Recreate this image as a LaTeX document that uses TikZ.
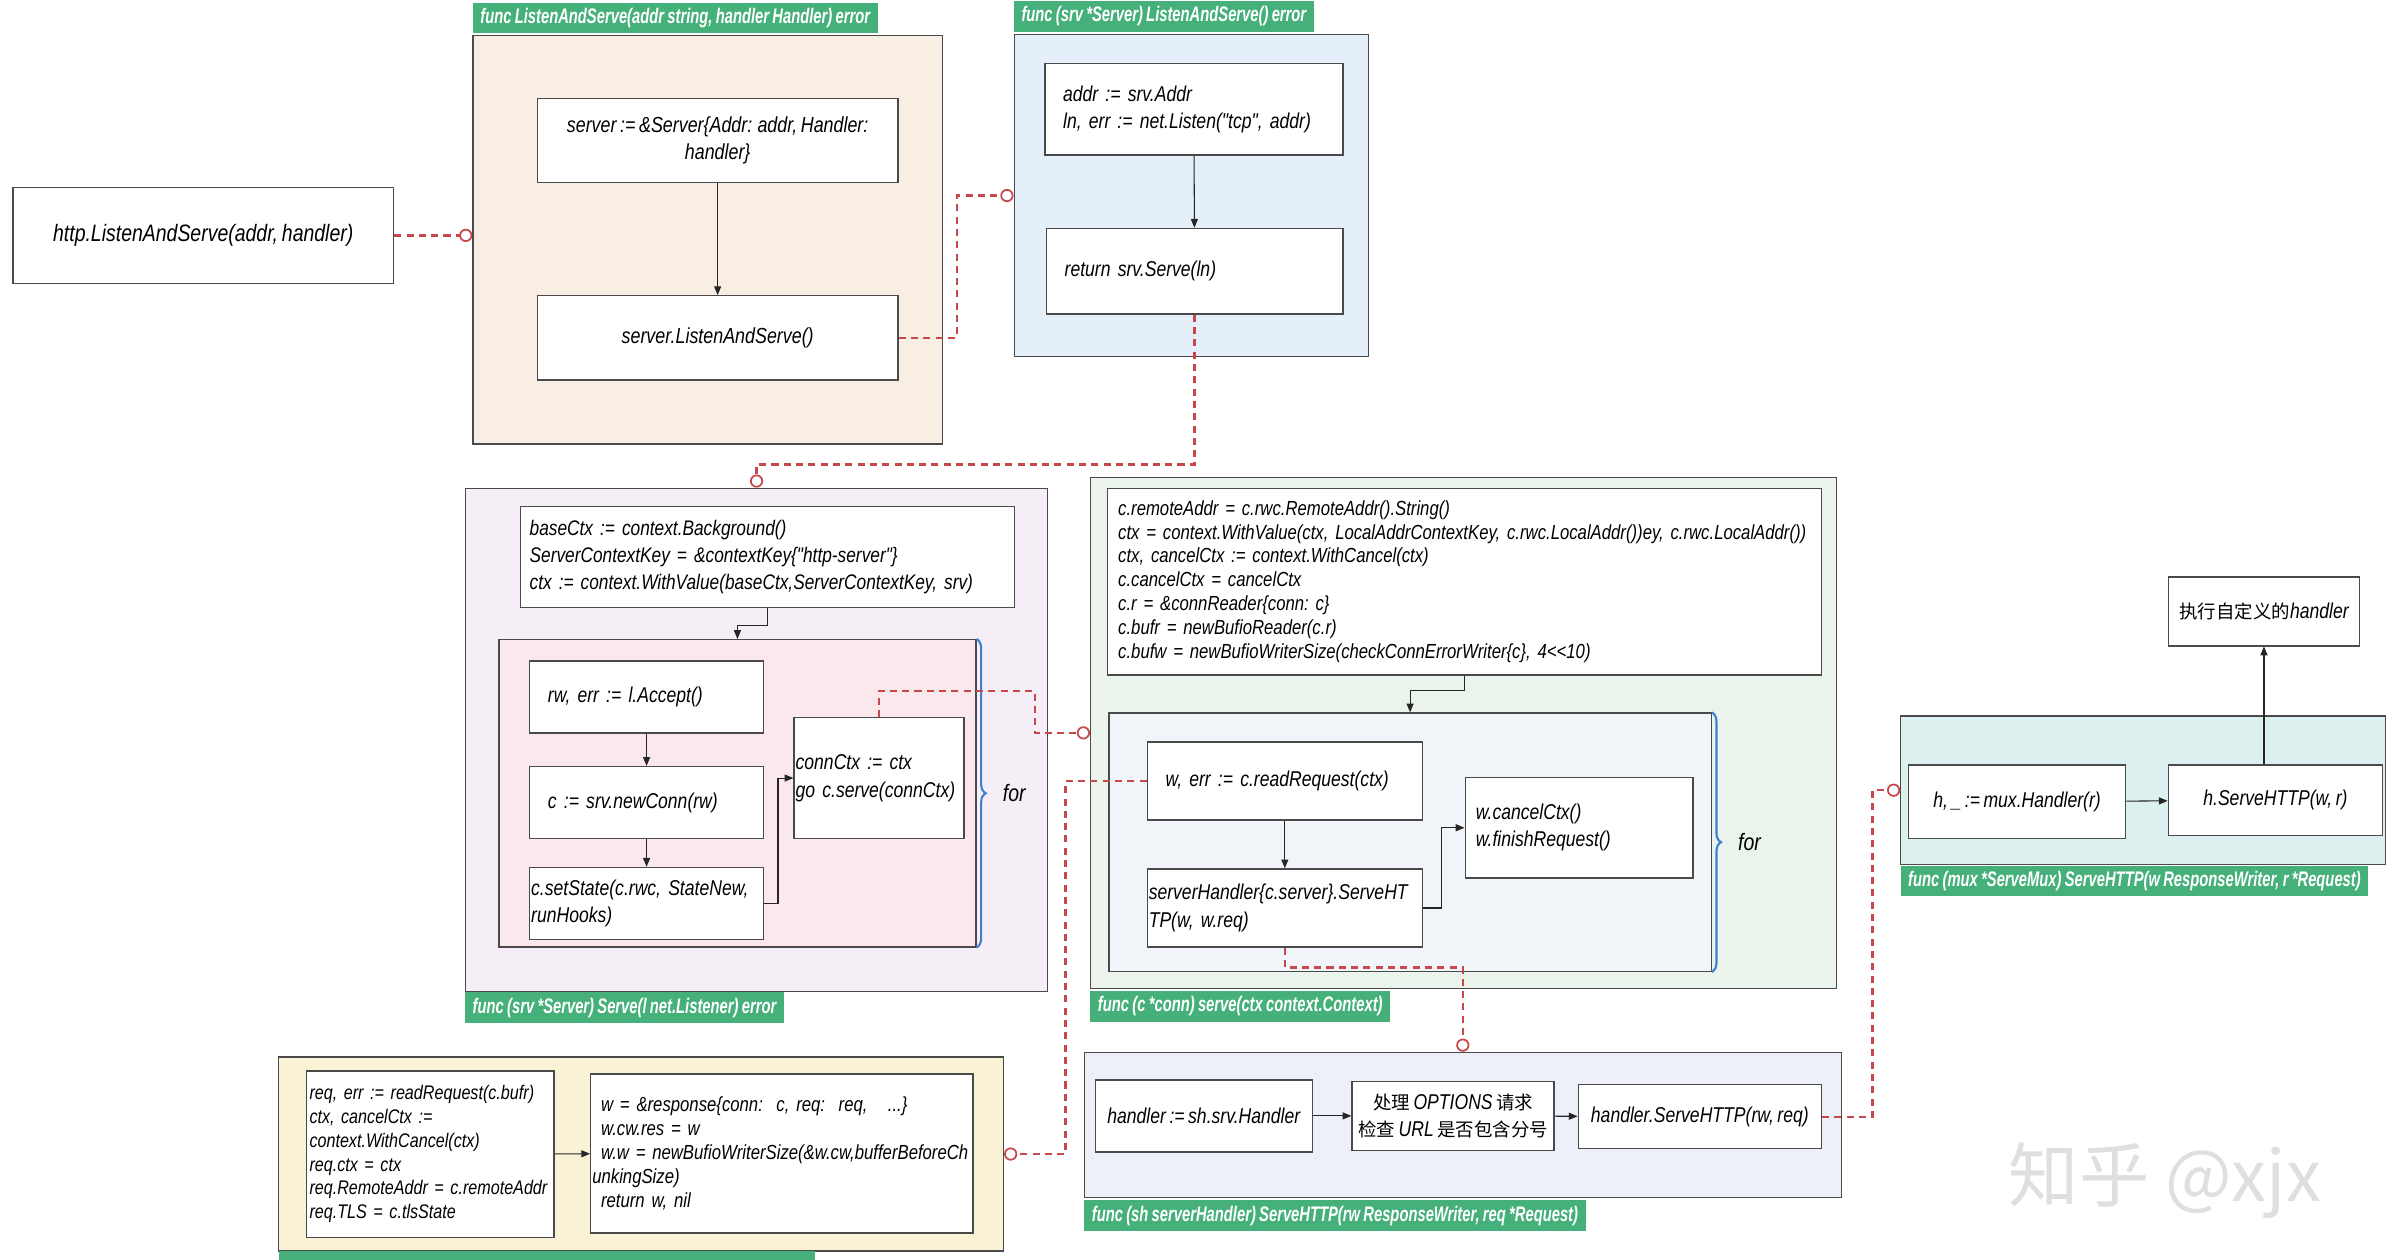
\documentclass[tikz,border=0pt]{standalone}
\usepackage{fontspec}
\usepackage{xcolor}
\usepackage{tikz}
\usetikzlibrary{arrows.meta,decorations.pathreplacing}
\newfontfamily\codefont{Liberation Sans}[FakeStretch=0.82, WordSpace=0.72]
\newfontfamily\tabfont{Liberation Sans}[FakeStretch=0.7, WordSpace=0.8]
\newfontfamily\cjk{Noto Sans CJK SC}
\definecolor{edge}{HTML}{4A4A4A}
\definecolor{tabgreen}{HTML}{45B07A}
\definecolor{linkred}{HTML}{C8474A}
\definecolor{braceblue}{HTML}{3F7FD0}
\definecolor{tanbg}{HTML}{F8EEE3}
\definecolor{bluebg}{HTML}{E4EFFA}
\definecolor{lilacbg}{HTML}{F5EEF7}
\definecolor{pinkbg}{HTML}{FBE8EC}
\definecolor{greenbg}{HTML}{EAF3EC}
\definecolor{loopbg}{HTML}{F1F5FA}
\definecolor{yellowbg}{HTML}{FAF2D5}
\definecolor{hdlbg}{HTML}{EDF0F8}
\definecolor{muxbg}{HTML}{DDF0F0}
\newdimen\px \px=0.3057mm
\tikzset{
  fnframe/.style={rectangle, draw=edge, line width=0.7pt, fill=#1, anchor=north west, inner sep=0pt},
  fntab/.style={rectangle, fill=tabgreen, text=white, anchor=#1, inner xsep=5\px, inner ysep=0pt,
                minimum height=20\px, font=\tabfont\bfseries\itshape\fontsize{12}{13}\selectfont},
  codebox/.style={rectangle, draw=edge, line width=0.8pt, fill=white, anchor=north west, inner ysep=0pt,
                  inner xsep=4\px, align=left, font=\codefont\itshape\frenchspacing\fontsize{12.2}{15.6}\selectfont},
  arr/.style={-{Triangle[length=5pt, width=4pt]}, line width=0.6pt, draw=black!85},
  calllink/.style={line width=1.3pt, draw=linkred, dash pattern=on 4pt off 3pt,
                   -{Circle[length=7.5pt, fill=white, line width=1pt]}},
  loopbrace/.style={decorate, decoration={brace, amplitude=6\px}, draw=braceblue, line width=1.2pt},
  forlabel/.style={anchor=west, inner sep=0pt, font=\codefont\itshape\fontsize{13.5}{15}\selectfont},
}

\begin{document}
\begin{tikzpicture}[x=0.3057mm, y=-0.3057mm]
  \useasboundingbox (0,0) rectangle (1568,824);
  \fill[white] (0,0) rectangle (1568,824);

  % entry call
  \node[codebox, align=center, font=\codefont\itshape\fontsize{13.5}{16}\selectfont,
        minimum width=249\px, minimum height=63\px] (http) at (8,122) {http.ListenAndServe(addr, handler)};

  % func ListenAndServe
  \node[fnframe=tanbg, minimum width=307\px, minimum height=267\px] (fLAS) at (309,23) {};
  \node[fntab=south west] (tLAS) at (309,22) {func ListenAndServe(addr string, handler Handler) error};
  \node[codebox, align=center, font=\codefont\itshape\fontsize{12.4}{15.6}\selectfont,
        minimum width=236\px, minimum height=55\px] (srvNew) at (351,64) {server := \&Server\{Addr: addr, Handler:\\handler\}};
  \node[codebox, align=center, font=\codefont\itshape\fontsize{12.4}{15.6}\selectfont,
        minimum width=236\px, minimum height=55\px] (sLAS) at (351,193) {server.ListenAndServe()};
  \draw[arr] (srvNew) -- (sLAS);

  % func (srv *Server) ListenAndServe
  \node[fnframe=bluebg, minimum width=232\px, minimum height=211\px] (fSrvLAS) at (663,22) {};
  \node[fntab=south west] (tSrvLAS) at (663,21) {func (srv *Server) ListenAndServe() error};
  \node[codebox, inner xsep=12\px, text width=171\px, minimum height=60\px] (addr) at (683,41) {addr := srv.Addr\\ln, err := net.Listen("tcp", addr)};
  \node[codebox, inner xsep=12\px, text width=170\px, minimum height=56\px] (ret) at (684,149) {return srv.Serve(ln)};
  \draw[arr] (addr) -- (ret);

  % func (srv *Server) Serve
  \node[fnframe=lilacbg, minimum width=381\px, minimum height=329\px] (fServe) at (304,319) {};
  \node[fntab=north west] (tServe) at (304,649) {func (srv *Server) Serve(l net.Listener) error};
  \node[codebox, inner xsep=6\px, text width=311\px, minimum height=66\px,
        font=\codefont\itshape\frenchspacing\fontsize{12}{15.2}\selectfont] (base) at (340,331)
       {baseCtx := context.Background()\\ServerContextKey = \&contextKey\{"http-server"\}\\ctx := context.WithValue(baseCtx,ServerContextKey, srv)};
  \node[fnframe=pinkbg, minimum width=312\px, minimum height=201\px] (fLoop) at (326,418) {};
  \node[codebox, inner xsep=12\px, text width=129\px, minimum height=47\px] (acc) at (346,432) {rw, err := l.Accept()};
  \node[codebox, inner xsep=12\px, text width=129\px, minimum height=47\px] (nc) at (346,501) {c := srv.newConn(rw)};
  \node[codebox, inner xsep=1\px, text width=151\px, minimum height=47\px] (st) at (346,567) {c.setState(c.rwc, StateNew,\\runHooks)};
  \node[codebox, inner xsep=1\px, text width=109\px, minimum height=79\px] (cctx) at (519,469) {connCtx := ctx\\go c.serve(connCtx)};
  \draw[loopbrace] (fLoop.north east) -- (fLoop.south east);
  \node[forlabel] (forA) at ([xshift=17\px]fLoop.east) {for};
  \draw[arr] (base.south) -- ++(0,11) -| (fLoop.north);
  \draw[arr] (acc) -- (nc);
  \draw[arr] (nc) -- (st);
  \draw[arr] (st.east) -- ++(9,0) |- (cctx.west);

  % func (c *conn) serve
  \node[fnframe=greenbg, minimum width=488\px, minimum height=334\px] (fConn) at (713,312) {};
  \node[fntab=north west] (tConn) at (713,648) {func (c *conn) serve(ctx context.Context)};
  \node[codebox, inner xsep=7\px, text width=453\px, minimum height=122\px,
        font=\codefont\itshape\frenchspacing\fontsize{11.6}{13.6}\selectfont] (remote) at (724,319)
       {c.remoteAddr = c.rwc.RemoteAddr().String()\\
        ctx = context.WithValue(ctx, LocalAddrContextKey, c.rwc.LocalAddr())ey, c.rwc.LocalAddr())\\
        ctx, cancelCtx := context.WithCancel(ctx)\\
        c.cancelCtx = cancelCtx\\
        c.r = \&connReader\{conn: c\}\\
        c.bufr = newBufioReader(c.r)\\
        c.bufw = newBufioWriterSize(checkConnErrorWriter\{c\}, 4<<10)};
  \node[fnframe=loopbg, minimum width=394\px, minimum height=169\px] (fLoop2) at (725,466) {};
  \node[codebox, inner xsep=12\px, text width=156\px, minimum height=51\px] (rr) at (750,485) {w, err := c.readRequest(ctx)};
  \node[codebox, inner xsep=1\px, text width=178\px, minimum height=51\px] (shdl) at (750,568) {serverHandler\{c.server\}.ServeHT\\TP(w, w.req)};
  \node[codebox, inner xsep=7\px, text width=135\px, minimum height=66\px] (cancel) at (958,508) {w.cancelCtx()\\w.finishRequest()};
  \draw[loopbrace] (fLoop2.north east) -- (fLoop2.south east);
  \node[forlabel] (forB) at ([xshift=17\px]fLoop2.east) {for};
  \draw[arr] (remote.south) -- ++(0,10) -| (fLoop2.north);
  \draw[arr] (rr) -- (shdl);
  \draw[arr] (shdl.east) -- ++(12,0) |- (cancel.west);

  % func (c *conn) readRequest
  \node[fnframe=yellowbg, minimum width=474\px, minimum height=127\px] (fRead) at (182,691) {};
  \node[fntab=north west, minimum width=351\px] (tRead) at (182,818) {};
  \node[codebox, inner xsep=2\px, text width=158\px, minimum height=109\px,
        font=\codefont\itshape\frenchspacing\fontsize{11.2}{13.5}\selectfont] (rq) at (200,700)
       {req, err := readRequest(c.bufr)\\ctx, cancelCtx :=\\context.WithCancel(ctx)\\req.ctx = ctx\\req.RemoteAddr = c.remoteAddr\\req.TLS = c.tlsState};
  \node[codebox, inner xsep=1\px, text width=248\px, minimum height=104\px,
        font=\codefont\itshape\frenchspacing\fontsize{11.6}{13.65}\selectfont] (resp) at (386,702)
       {\hspace*{5pt}w = \&response\{conn:\ \ c, req:\ \ req,\ \ \ ...\}\\
        \hspace*{5pt}w.cw.res = w\\
        \hspace*{5pt}w.w = newBufioWriterSize(\&w.cw,bufferBeforeCh\\
        unkingSize)\\
        \hspace*{5pt}return w, nil};
  \draw[arr] (rq) -- (resp);

  % func (sh serverHandler) ServeHTTP
  \node[fnframe=hdlbg, minimum width=495\px, minimum height=95\px] (fSH) at (709,688) {};
  \node[fntab=north west] (tSH) at (709,785) {func (sh serverHandler) ServeHTTP(rw ResponseWriter, req *Request)};
  \node[codebox, align=center, minimum width=142\px, minimum height=47\px] (hdl) at (716,706) {handler := sh.srv.Handler};
  \node[codebox, align=center, minimum width=125\px, minimum height=45\px] (opt) at (884,707)
       {{\cjk\fontsize{10.5}{13.5}\selectfont 处理} OPTIONS {\cjk\fontsize{10.5}{13.5}\selectfont 请求}\\{\cjk\fontsize{10.5}{13.5}\selectfont 检查} URL {\cjk\fontsize{10.5}{13.5}\selectfont 是否包含分号}};
  \node[codebox, align=center, minimum width=159\px, minimum height=42\px] (hsrv) at (1032,709) {handler.ServeHTTP(rw, req)};
  \draw[arr] (hdl) -- (opt);
  \draw[arr] (opt) -- (hsrv);

  % func (mux *ServeMux) ServeHTTP
  \node[fnframe=muxbg, minimum width=317\px, minimum height=97\px] (fMux) at (1243,468) {};
  \node[fntab=north west] (tMux) at (1243,566) {func (mux *ServeMux) ServeHTTP(w ResponseWriter, r *Request)};
  \node[codebox, align=center, minimum width=142\px, minimum height=48\px] (muxh) at (1248,500) {h, \_ := mux.Handler(r)};
  \node[codebox, align=center, minimum width=140\px, minimum height=46\px] (hserve) at (1418,500) {h.ServeHTTP(w, r)};
  \node[codebox, align=center, minimum width=125\px, minimum height=45\px] (custom) at (1418,377) {{\cjk\fontsize{10.5}{13}\selectfont 执行自定义的}handler};
  \draw[arr] (muxh) -- (hserve);
  \draw[arr] (hserve.north -| custom.south) -- (custom.south);

  % calls between functions
  \draw[calllink] (http.east) -- (http.east -| fLAS.west);
  \draw[calllink] (sLAS.east) -- ++(38,0) |- (fSrvLAS.west);
  \draw[calllink] (ret.south) -- ++(0,98) -| (fServe.north);
  \draw[calllink] (cctx.north) -- ++(0,-17) -- ++(102,0) |- (fConn.west);
  \draw[calllink] (rr.west) -- ++(-53,0) |- (fRead.east);
  \draw[calllink] (shdl.south) -- ++(0,13) -| (fSH.north);
  \draw[calllink] (hsrv.east) -- ++(33,0) |- (fMux.west);

  \node[anchor=west, text=gray!25, font=\cjk\fontsize{40}{40}\selectfont] (mark) at (1310,772) {知乎 @xjx};
\end{tikzpicture}
\end{document}
